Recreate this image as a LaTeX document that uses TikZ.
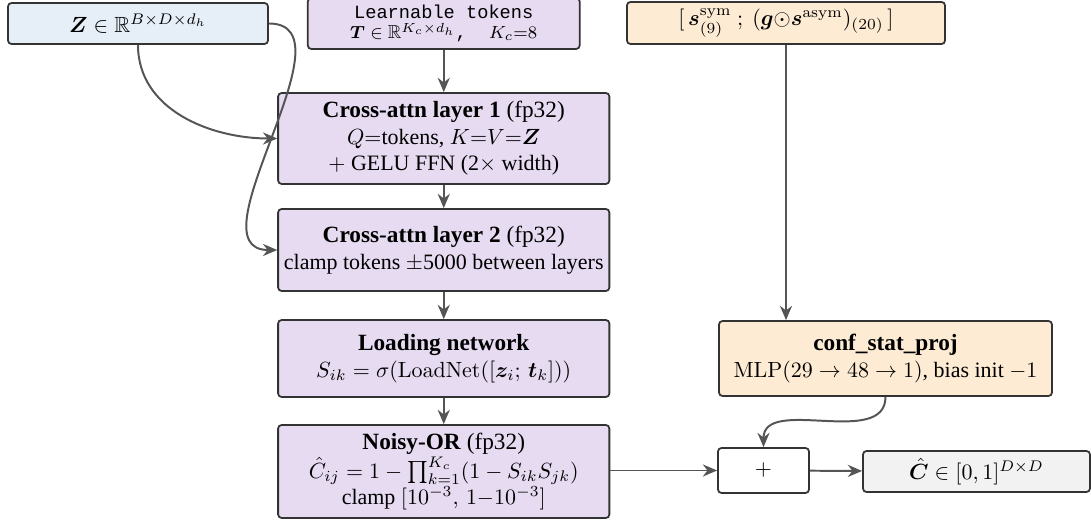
\documentclass[tikz,border=0pt]{standalone}
\usepackage{amsmath,amssymb,bm}
\usepackage[no-math]{fontspec}
\setmainfont{Liberation Serif}
\setmonofont{Liberation Mono}
\usepackage{xcolor}
\usetikzlibrary{arrows.meta}

\definecolor{boxline}{HTML}{333333}
\definecolor{arrowgray}{HTML}{555555}
\definecolor{layerfill}{HTML}{E6DBF1}
\definecolor{inputfill}{HTML}{E6EEF7}
\definecolor{statfill}{HTML}{FDEBD3}
\definecolor{outfill}{HTML}{F2F2F2}

\newcommand{\boxtitle}[1]{{\fontsize{10.6}{12.6}\selectfont #1}}

\begin{document}
\begin{tikzpicture}[box/.style={draw=boxline, line width=0.8pt, rounded corners=1.6pt, align=center, inner sep=2pt},
    layer/.style={box, fill=layerfill, minimum width=5.3cm},
    flow/.style={draw=arrowgray, line width=0.9pt, -{Stealth[length=6.5pt,width=5.5pt]}}]
            \useasboundingbox (0,0) rectangle (17.456,-8.368);

            \node (Z) at (2.208,-0.376) [box, fill=inputfill, minimum width=4.16cm, minimum height=0.656cm]
                {$\boldsymbol{Z}\in\mathbb{R}^{B\times D\times d_h}$};
            \node (T) at (7.1,-0.376) [box, fill=layerfill, minimum width=4.35cm, minimum height=0.816cm, font=\ttfamily\fontsize{8.5}{8.8}\selectfont]
                {Learnable tokens\\ $\boldsymbol{T}\in\mathbb{R}^{K_c\times d_h}$,\ \ $K_c{=}8$};
            \node (S) at (12.576,-0.368) [box, fill=statfill, minimum width=5.09cm, minimum height=0.672cm]
                {$[\,\boldsymbol{s}^{\mathrm{sym}}_{(9)}\ ;\ (\boldsymbol{g}{\odot}\boldsymbol{s}^{\mathrm{asym}})_{(20)}\,]$};

            \node (CA1) at (7.1,-2.216) [layer, minimum height=1.456cm]
                {\boxtitle{\textbf{Cross-attn layer 1} (fp32)}\\ $Q{=}$tokens, $K{=}V{=}\boldsymbol{Z}$\\ $+$ GELU FFN (2$\times$ width)};
            \node (CA2) at (7.1,-4.0) [layer, minimum height=1.312cm]
                {\boxtitle{\textbf{Cross-attn layer 2} (fp32)}\\ clamp tokens $\pm$5000 between layers};
            \node (L) at (7.1,-5.736) [layer, minimum height=1.232cm]
                {\boxtitle{\textbf{Loading network}}\\ $S_{ik}=\sigma(\mathrm{LoadNet}([\boldsymbol{z}_i;\,\boldsymbol{t}_k]))$};
            \node (N) at (7.1,-7.544) [layer, minimum height=1.488cm]
                {\boxtitle{\textbf{Noisy-OR} (fp32)}\\ $\hat{C}_{ij}=1-\prod_{k=1}^{K_c}(1-S_{ik}S_{jk})$\\ clamp $[10^{-3},\,1{-}10^{-3}]$};

            \node (P) at (14.168,-5.736) [box, fill=statfill, minimum width=5.328cm, minimum height=1.2cm]
                {\boxtitle{\textbf{conf\_stat\_proj}}\\ $\mathrm{MLP}(29\to48\to1)$, bias init $-1$};
            \node (plus) at (12.216,-7.528) [box, fill=white, minimum width=1.456cm, minimum height=0.72cm] {$+$};
            \node (C) at (15.624,-7.544) [box, fill=outfill, minimum width=3.632cm, minimum height=0.656cm]
                {$\hat{\boldsymbol{C}}\in[0,1]^{D\times D}$};

            \draw[flow] (T) -- (CA1);
            \draw[flow] (CA1) -- (CA2);
            \draw[flow] (CA2) -- (L);
            \draw[flow] (L) -- (N);
            \draw[flow] (Z.south) to[out=-90, in=180] (CA1.west);
            \draw[flow] (Z.east) to[out=0, in=180] (CA2.west);

            \draw[flow] (S) -- (S |- P.north);
            \draw[flow] (P.south) to[out=-90, in=90] (plus.north);
            \draw[flow] (N.east |- plus.west) -- (plus.west);
            \draw[flow] (plus) -- (C);
        \end{tikzpicture}
\end{document}
